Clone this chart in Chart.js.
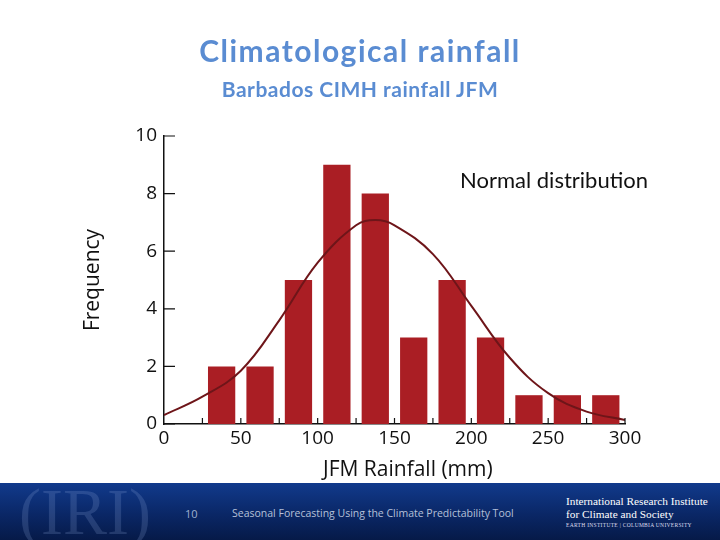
<!DOCTYPE html>
<html>
<head>
<meta charset="utf-8">
<script src="https://cdn.jsdelivr.net/npm/chart.js@4"></script>
<style>
    body { margin: 0; background: #fff; }
    #page { position: relative; width: 720px; height: 540px; overflow: hidden; background: #fff; }
    #graficoChuva { position: absolute; left: 0; top: 0; }
    .titulo { position: absolute; left: 0; width: 720px; text-align: center; color: #5a8cd2; font-family: Lato, sans-serif; font-weight: bold; }
    #normal { position: absolute; left: 460px; top: 166px; font: 22px Lato, sans-serif; color: #111; }
    #eixoX { position: absolute; left: 323px; top: 454px; font: 21px "Open Sans", sans-serif; color: #111; white-space: nowrap; }
    #rodape { position: absolute; left: 0; top: 483px; width: 720px; height: 57px; overflow: hidden;
              background: linear-gradient(#113a8c, #0a2766 55%, #061a48); }
    #logo { position: absolute; left: 10px; top: -16px; width: 150px; height: 90px; text-align: center;
            font: 66px "Liberation Serif", serif; color: rgba(150, 175, 225, 0.2); line-height: 90px; }
    #pagina { position: absolute; left: 185px; top: 23px; font: 11px "Open Sans", sans-serif; color: #9fb0d0; }
    #rodapeTexto { position: absolute; left: 232px; top: 23px; font: 10.5px "Open Sans", sans-serif; color: #b5c0d8; }
    #iri { position: absolute; left: 566px; top: 12px; color: #fff; font-family: "Liberation Serif", serif; line-height: 13px; }
    #iri .l1, #iri .l2 { font-size: 11.3px; }
    #iri .l3 { font-size: 5.5px; letter-spacing: 0.3px; line-height: 9px; color: #dde; }
</style>
</head>
<body>
<div id="page">
    <canvas id="graficoChuva" width="720" height="480"></canvas>
    <div class="titulo" style="top: 32px; font-size: 30px; letter-spacing: 1.5px;">Climatological rainfall</div>
    <div class="titulo" style="top: 76px; font-size: 21px; letter-spacing: 0.5px;">Barbados CIMH rainfall JFM</div>
    <div id="normal">Normal distribution</div>
    <div id="eixoX">JFM Rainfall (mm)</div>
    <div id="rodape">
        <div id="logo">(IRI)</div>
        <div id="pagina">10</div>
        <div id="rodapeTexto">Seasonal Forecasting Using the Climate Predictability Tool</div>
        <div id="iri">
            <div class="l1">International Research Institute</div>
            <div class="l2">for Climate and Society</div>
            <div class="l3">EARTH INSTITUTE | COLUMBIA UNIVERSITY</div>
        </div>
    </div>
</div>

<script>
// histogram bins (mm) and counts
const binCenters = [37.5, 62.5, 87.5, 112.5, 137.5, 162.5, 187.5, 212.5, 237.5, 262.5, 287.5];
const frequency = [2, 2, 5, 9, 8, 3, 5, 3, 1, 1, 1];

// fitted normal curve
const curveX = [0, 25, 50, 75, 100, 125, 137.5, 150, 175, 200, 225, 250, 275, 300];
const curveY = [0.31, 0.95, 1.85, 3.6, 5.6, 6.9, 7.08, 6.9, 5.9, 4.1, 2.3, 1.07, 0.43, 0.14];

// axis ticks
const xTicks = [0, 50, 100, 150, 200, 250, 300];
const yTicks = [0, 2, 4, 6, 8, 10];

document.addEventListener("DOMContentLoaded", () => {

    const ctx = document.getElementById("graficoChuva");
    const fonteEixo = { family: "'Open Sans', sans-serif", size: 19 };

    // small ticks pointing into the plot, like the original
    const ticksParaDentro = {
        id: "ticksParaDentro",
        afterDraw(chart) {
            const { ctx, scales: { x, y } } = chart;
            ctx.save();
            ctx.strokeStyle = "#111";
            ctx.lineWidth = 1.2;
            ctx.beginPath();
            for (let v = 25; v <= 300; v += 25) {
                const px = x.getPixelForValue(v);
                ctx.moveTo(px, y.bottom);
                ctx.lineTo(px, y.bottom - 6);
            }
            yTicks.forEach(v => {
                const py = y.getPixelForValue(v);
                ctx.moveTo(x.left, py);
                ctx.lineTo(x.left + 11, py);
            });
            ctx.stroke();
            ctx.restore();
        }
    };

    new Chart(ctx, {
        type: "bar",
        data: {
            datasets: [
                {
                    type: "line",
                    label: "Normal distribution",
                    data: curveX.map((v, i) => ({ x: v, y: curveY[i] })),
                    borderColor: "#6e1519",
                    borderWidth: 2,
                    pointRadius: 0,
                    fill: false,
                    tension: 0.4,
                    order: 0
                },
                {
                    label: "Frequency",
                    data: binCenters.map((v, i) => ({ x: v, y: frequency[i] })),
                    backgroundColor: "#aa1e24",
                    borderWidth: 0,
                    categoryPercentage: 1,
                    barPercentage: 0.71,
                    order: 1
                }
            ]
        },
        options: {
            responsive: false,
            animation: false,
            layout: { padding: { left: 70, right: 95, top: 136, bottom: 0 } },
            plugins: {
                legend: { display: false },
                tooltip: { enabled: false }
            },
            scales: {
                x: {
                    type: "linear",
                    min: 0,
                    max: 300,
                    offset: false,
                    afterFit: s => { s.height = 56; },
                    afterBuildTicks: s => { s.ticks = xTicks.map(v => ({ value: v })); },
                    grid: { display: false, drawTicks: false, offset: false },
                    border: { display: true, color: "#111", width: 1.5 },
                    ticks: { color: "#111", font: fonteEixo, padding: 3, maxRotation: 0 }
                },
                y: {
                    min: 0,
                    max: 10,
                    afterFit: s => { s.width = 94; },
                    afterBuildTicks: s => { s.ticks = yTicks.map(v => ({ value: v })); },
                    grid: { display: false, drawTicks: false },
                    border: { display: true, color: "#111", width: 1.5 },
                    ticks: { color: "#111", font: fonteEixo, padding: 7 },
                    title: {
                        display: true,
                        text: "Frequency",
                        color: "#111",
                        font: { family: "'Open Sans', sans-serif", size: 21 },
                        padding: { top: 10, bottom: 0 }
                    }
                }
            }
        },
        plugins: [ticksParaDentro]
    });

});
</script>
</body>
</html>
